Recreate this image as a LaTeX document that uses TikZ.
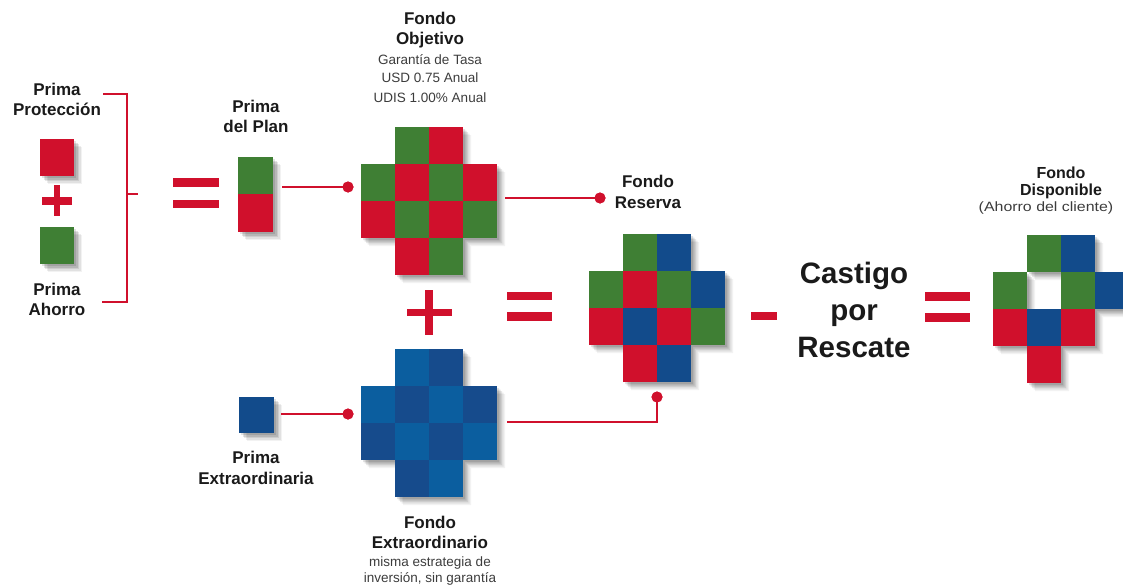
\documentclass[tikz,border=0pt]{standalone}
\usepackage{fontspec}
\usepackage{graphicx}
\setmainfont{Liberation Sans}
\usetikzlibrary{calc}
\definecolor{cred}{HTML}{D0102C}
\definecolor{cgreen}{HTML}{3F7F34}
\definecolor{cblue}{HTML}{124B8B}
\definecolor{cblueL}{HTML}{0B5E9F}
\definecolor{cblueD}{HTML}{164B8C}
\definecolor{ctext}{HTML}{1A1A1A}
\tikzset{
  cellbox/.style={rectangle, inner sep=0pt, outer sep=0pt, minimum width=34pt, minimum height=37pt, anchor=north west},
  conn/.style={cred, line width=1.6pt},
  dotnode/.style={circle, fill=cred, inner sep=0pt, minimum size=11pt},
  barfill/.style={fill=cred},
  lab/.style={font=\fontsize{17}{20}\selectfont\bfseries, text=ctext, anchor=base, inner sep=0pt},
  labs/.style={font=\fontsize{16}{18}\selectfont\bfseries, text=ctext, anchor=base, inner sep=0pt},
  small/.style={font=\fontsize{13.5}{16}\selectfont, text=ctext!85, anchor=base, inner sep=0pt},
  big/.style={font=\fontsize{29.5}{36}\selectfont\bfseries, text=ctext, anchor=base, inner sep=0pt},
}
% soft shadow: #1 = closed path
\newcommand{\softshade}[1]{%
  \foreach \s/\o in {8/0.05,6.5/0.07,5/0.09,3.5/0.11,2/0.11} {
    \fill[black, opacity=\o, even odd rule, shift={(\s,\s)}] #1;
  }%
}
\newcommand{\crosspath}[2]{(#1+34,#2) -- ++(68,0) -- ++(0,37) -- ++(34,0) -- ++(0,74) -- ++(-34,0) -- ++(0,37) -- ++(-68,0) -- ++(0,-37) -- ++(-34,0) -- ++(0,-74) -- ++(34,0) -- cycle}
\begin{document}
\begin{tikzpicture}[x=1pt,y=-1pt]
\useasboundingbox (0,0) rectangle (1123,586);

% ---------- shadows ----------
\softshade{(40,139) rectangle (74,176)}
\softshade{(40,227) rectangle (74,264)}
\softshade{(238,157) rectangle (273,232)}
\softshade{(239,397) rectangle (274,433)}
\softshade{\crosspath{361}{127}}
\softshade{\crosspath{589}{234}}
\softshade{\crosspath{361}{349}}
\softshade{(1027,235) -- (1095,235) -- (1095,272) -- (1129,272) -- (1129,309) -- (1095,309) -- (1095,346) -- (1061,346) -- (1061,383) -- (1027,383) -- (1027,346) -- (993,346) -- (993,272) -- (1027,272) -- cycle (1027,272) rectangle (1061,309)}

% ---------- Prima Proteccion / Ahorro ----------
\node[lab] (pp1) at (57,95) {Prima};
\node[lab] (pp2) at (57,115) {Protección};
\node[cellbox, fill=cred, minimum width=34pt, minimum height=37pt] (pprot) at (40,139) {};
\fill[barfill] (42,197) rectangle (72,205);
\fill[barfill] (54,185) rectangle (60,216);
\node[cellbox, fill=cgreen, minimum width=34pt, minimum height=37pt] (pahorro) at (40,227) {};
\node[lab] (pa1) at (57,295) {Prima};
\node[lab] (pa2) at (57,315) {Ahorro};
\draw[conn] (103,94) -- (127,94) -- (127,302) -- (102,302);
\draw[conn] (127,194) -- (138,194);

% equals 1
\fill[barfill] (173,178) rectangle (219,187);
\fill[barfill] (173,200) rectangle (219,208);

% ---------- Prima del Plan ----------
\node[lab] (pl1) at (256,112) {Prima};
\node[lab] (pl2) at (256,132) {del Plan};
\node[cellbox, fill=cgreen, minimum width=35pt, minimum height=37pt] (planG) at (238,157) {};
\node[cellbox, fill=cred, minimum width=35pt, minimum height=38pt] (planR) at (238,194) {};
\node[dotnode] (d1) at (348,187) {};
\draw[conn] ($(planG.south east)+(9,-7)$) -- (d1.center);
\node[dotnode] at (d1) {};

% ---------- Fondo Objetivo ----------
\node[lab] (fo1) at (430,25) {Fondo};
\node[lab] (fo2) at (430,45) {Objetivo};
\node[small] (fo3) at (430,64) {Garantía de Tasa};
\node[small] (fo4) at (430,82) {USD 0.75 Anual};
\node[small] (fo5) at (430,102) {UDIS 1.00\% Anual};
\foreach \r/\c/\col in {1/2/cgreen,1/3/cred,
                        2/1/cgreen,2/2/cred,2/3/cgreen,2/4/cred,
                        3/1/cred,3/2/cgreen,3/3/cred,3/4/cgreen,
                        4/2/cred,4/3/cgreen}
  \node[cellbox, fill=\col] (obj-\r-\c) at ({361+34*(\c-1)},{127+37*(\r-1)}) {};

\node[dotnode] (d2) at (600,198) {};
\draw[conn] ($(obj-2-4.south east)+(8,-3)$) -- (d2.center);
\node[dotnode] at (d2) {};
\node[lab] (fr1) at (648,187) {Fondo};
\node[lab] (fr2) at (648,208) {Reserva};

% plus big
\fill[barfill] (407,309) rectangle (452,316);
\fill[barfill] (425,290) rectangle (433,335);
% equals 2
\fill[barfill] (507,292) rectangle (552,300);
\fill[barfill] (507,312) rectangle (552,321);

% ---------- Fondo Reserva grid ----------
\foreach \r/\c/\col in {1/2/cgreen,1/3/cblue,
                        2/1/cgreen,2/2/cred,2/3/cgreen,2/4/cblue,
                        3/1/cred,3/2/cblue,3/3/cred,3/4/cgreen,
                        4/2/cred,4/3/cblue}
  \node[cellbox, fill=\col] (res-\r-\c) at ({589+34*(\c-1)},{234+37*(\r-1)}) {};

% minus
\fill[barfill] (751,312) rectangle (777,320);
% Castigo por Rescate
\node[big] (c1) at (854,283) {Castigo};
\node[big] (c2) at (854,320) {por};
\node[big] (c3) at (854,357) {Rescate};
% equals 3
\fill[barfill] (925,292) rectangle (970,301);
\fill[barfill] (925,313) rectangle (970,322);

% ---------- Fondo Disponible ----------
\node[labs] (fd1) at (1061,178) {Fondo};
\node[labs] (fd2) at (1061,195) {Disponible};
\node[small] (fd3) at (1046,211) {\scalebox{1.18}[1]{(Ahorro del cliente)}};
\foreach \r/\c/\col in {1/2/cgreen,1/3/cblue,
                        2/1/cgreen,2/3/cgreen,2/4/cblue,
                        3/1/cred,3/2/cblue,3/3/cred,
                        4/2/cred}
  \node[cellbox, fill=\col] (dis-\r-\c) at ({993+34*(\c-1)},{235+37*(\r-1)}) {};

% ---------- Prima Extraordinaria ----------
\node[cellbox, fill=cblue, minimum width=35pt, minimum height=36pt] (pext) at (239,397) {};
\node[lab] (pe1) at (256,463) {Prima};
\node[lab] (pe2) at (256,484) {Extraordinaria};
\node[dotnode] (d3) at (348,414) {};
\draw[conn] ($(pext.east)+(7,-1)$) -- (d3.center);
\node[dotnode] at (d3) {};

% ---------- Fondo Extraordinario ----------
\foreach \r/\c/\col in {1/2/cblueL,1/3/cblueD,
                        2/1/cblueL,2/2/cblueD,2/3/cblueL,2/4/cblueD,
                        3/1/cblueD,3/2/cblueL,3/3/cblueD,3/4/cblueL,
                        4/2/cblueD,4/3/cblueL}
  \node[cellbox, fill=\col] (ext-\r-\c) at ({361+34*(\c-1)},{349+37*(\r-1)}) {};
\node[lab] (fe1) at (430,528) {Fondo};
\node[lab] (fe2) at (430,548) {Extraordinario};
\node[small] (fe3) at (430,566) {misma estrategia de};
\node[small] (fe4) at (430,582) {inversión, sin garantía};

\coordinate (d4pos) at ($(res-4-2.south east)+(0,15)$);
\node[dotnode] (d4) at (d4pos) {};
\draw[conn] ($(ext-3-4.north east)+(10,-1)$) -| (d4.center);
\node[dotnode] at (d4) {};
\end{tikzpicture}
\end{document}
